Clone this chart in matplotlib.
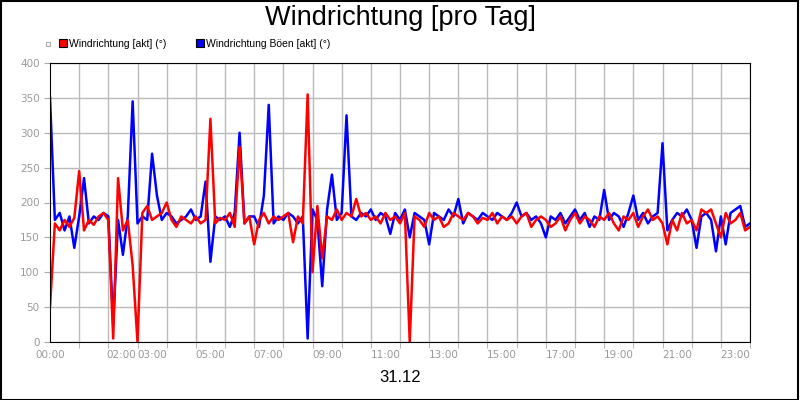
import matplotlib
matplotlib.use("Agg")
import matplotlib.pyplot as plt
import numpy as np

red_vals = [
 50, 170, 160, 175, 165, 178,
 245, 160, 175, 168, 180, 185,
 175, 5, 235, 160, 175, 110,
 0, 185, 195, 175, 180, 185,
 200, 175, 165, 180, 175, 170,
 180, 170, 175, 320, 170, 178,
 175, 185, 165, 280, 170, 180,
 140, 175, 185, 170, 180, 175,
 180, 185, 143, 180, 170, 355,
 100, 195, 120, 180, 175, 190,
 175, 185, 180, 205, 180, 185,
 175, 180, 170, 185, 175, 180,
 170, 185, 0, 180, 175, 165,
 185, 175, 180, 165, 170, 185,
 180, 175, 185, 180, 170, 178,
 175, 185, 170, 180, 175, 180,
 170, 180, 185, 165, 175, 180,
 175, 165, 170, 180, 160, 175,
 185, 170, 180, 175, 165, 180,
 175, 185, 170, 160, 180, 175,
 185, 165, 180, 190, 175, 180,
 170, 140, 175, 160, 185, 170,
 175, 160, 190, 185, 190, 170,
 150, 185, 170, 175, 185, 160,
 165]
blue_vals = [
 350, 175, 185, 160, 180, 135,
 180, 235, 170, 180, 175, 185,
 180, 25, 175, 125, 180, 345,
 170, 180, 175, 270, 210, 175,
 185, 180, 170, 175, 180, 190,
 175, 180, 230, 115, 180, 175,
 180, 165, 185, 300, 170, 180,
 180, 165, 210, 340, 170, 180,
 175, 185, 180, 170, 180, 5,
 190, 175, 80, 190, 240, 175,
 185, 325, 180, 175, 185, 180,
 190, 175, 185, 180, 155, 185,
 175, 190, 150, 185, 180, 175,
 140, 185, 180, 175, 190, 180,
 205, 170, 185, 180, 175, 185,
 180, 175, 185, 180, 175, 185,
 200, 180, 185, 175, 180, 170,
 150, 180, 175, 185, 170, 180,
 190, 175, 185, 165, 180, 175,
 218, 175, 185, 180, 165, 185,
 210, 175, 185, 170, 180, 185,
 285, 160, 175, 185, 180, 190,
 175, 135, 180, 185, 175, 130,
 180, 140, 185, 190, 195, 165,
 170]
hours = np.arange(len(red_vals)) / 6.0
tick_labels = ["00:00", "02:00", "03:00", "05:00", "07:00", "09:00", "11:00",
               "13:00", "15:00", "17:00", "19:00", "21:00", "23:00"]
tick_pos = [0, 2.45, 3.5, 5.5, 7.5, 9.5, 11.5, 13.5, 15.5, 17.5, 19.5, 21.5, 23.5]

fig = plt.figure(figsize=(8, 4), dpi=100)
fig.patches.append(plt.Rectangle((0.001, 0.001), 0.997, 0.996, transform=fig.transFigure,
                                 fill=False, edgecolor="black", linewidth=1.5))
ax = fig.add_axes([0.0625, 0.145, 0.875, 0.6975])
ax.plot(hours, blue_vals, color="#0000ff", lw=1.8)
ax.plot(hours, red_vals, color="#ff0000", lw=1.8)
ax.set_xlim(0, 24)
ax.set_ylim(0, 400)
ax.set_yticks(range(0, 401, 50))
ax.set_xticks(range(0, 25), minor=True)
ax.set_xticks(tick_pos)
ax.set_xticklabels(tick_labels)
ax.tick_params(axis="x", which="major", length=0, labelsize=7.5, labelcolor="#999999", pad=6)
ax.tick_params(axis="x", which="minor", length=4, color="#aaaaaa")
ax.tick_params(axis="y", length=4, color="#aaaaaa", labelsize=7.5, labelcolor="#999999")
ax.grid(True, which="minor", axis="x", color="#bbbbbb", lw=1)
ax.grid(True, which="major", axis="y", color="#bbbbbb", lw=1)
for s in ax.spines.values():
    s.set_color("black")
ax.set_axisbelow(True)

fig.text(0.5, 0.955, "Windrichtung [pro Tag]", ha="center", va="center", fontsize=19.5,
         family="Liberation Sans")
fig.text(0.5, 0.055, "31.12", ha="center", va="center", fontsize=12, family="Liberation Sans")
fig.patches.append(plt.Rectangle((0.0575, 0.885), 0.005, 0.01, transform=fig.transFigure,
                                 fill=False, edgecolor="#aaaaaa", lw=0.8))
fig.patches.append(plt.Rectangle((0.0735, 0.882), 0.01, 0.02, transform=fig.transFigure,
                                 facecolor="#ff0000", edgecolor="black", lw=0.8))
fig.text(0.086, 0.891, "Windrichtung [akt] (°)", fontsize=7.5, va="center", family="Liberation Sans")
fig.patches.append(plt.Rectangle((0.2455, 0.882), 0.01, 0.02, transform=fig.transFigure,
                                 facecolor="#0000ff", edgecolor="black", lw=0.8))
fig.text(0.258, 0.891, "Windrichtung Böen [akt] (°)", fontsize=7.5, va="center", family="Liberation Sans")
fig.savefig("out.png", dpi=100)
